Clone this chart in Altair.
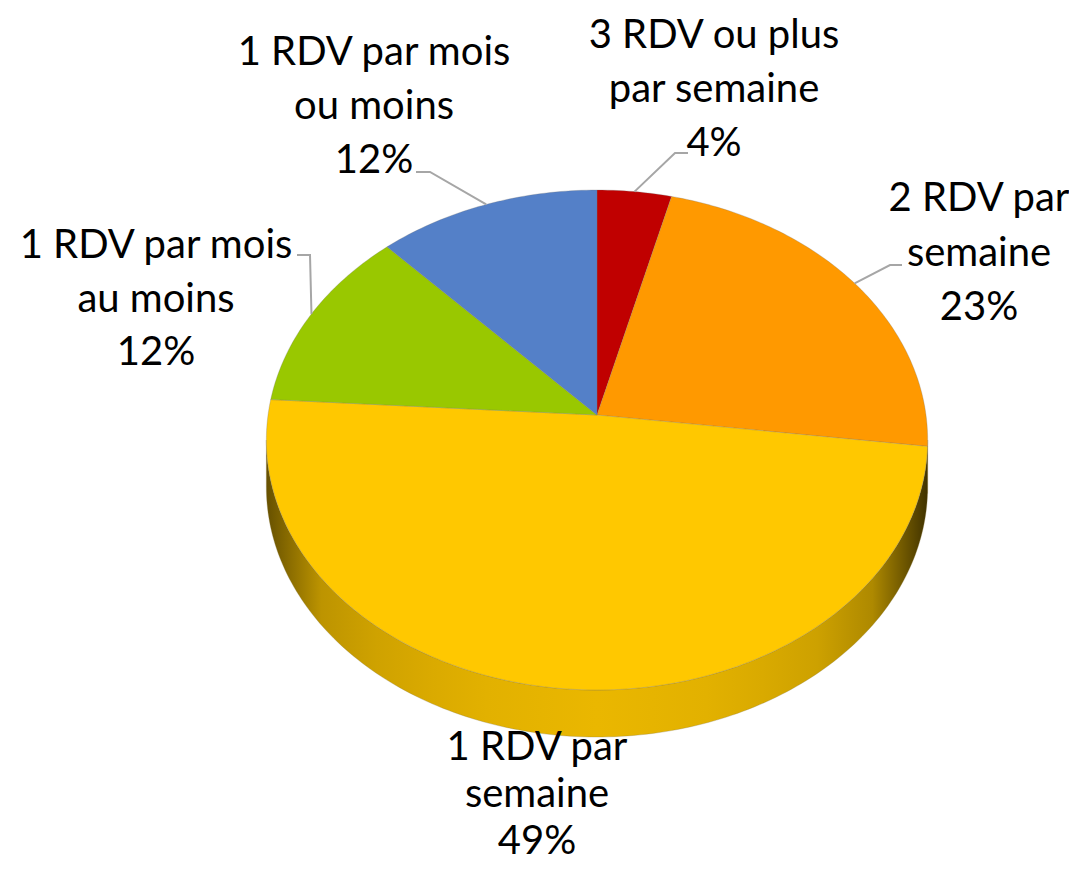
import math
import pandas as pd
import altair as alt

# ---------------- data ----------------
CATEGORIES = [
    "3 RDV ou plus par semaine",
    "2 RDV par semaine",
    "1 RDV par semaine",
    "1 RDV par mois au moins",
    "1 RDV par mois ou moins",
]
VALUES = [4, 23, 49, 12, 12]
LABEL_LINES = [
    ["3 RDV ou plus", "par semaine"],
    ["2 RDV par", "semaine"],
    ["1 RDV par", "semaine"],
    ["1 RDV par mois", "au moins"],
    ["1 RDV par mois", "ou moins"],
]
COLORS = ["#C00000", "#FF9900", "#FFC800", "#99C800", "#5480C8"]

# ---------------- layout (screen pixels) ----------------
CX, CY = 597, 415          # pie apex
A, B, K = 329, 247.5, 0.1  # semi-axes and perspective factor
DEPTH = 47                 # thickness of the pie
FONT_SIZE = 40
# label anchor (centre x, first baseline y, line spacing) per slice
LABEL_POS = [(714, 48, 54), (979, 211, 54.5), (537, 760, 47), (156, 258, 53.5), (374, 65, 54)]
# leader line: (label end, elbow) per slice, None = no leader
LEADERS = [((688, 153), (675, 153)), ((902, 265), (890, 265)), None,
           ((297, 255), (310, 255)), ((416, 172), (430, 172))]

TOTAL = sum(VALUES)


def proj(theta, drop=0.0):
    t = math.radians(theta)
    X, Z = math.sin(t), math.cos(t)
    s = 1 + K * Z
    return CX + A * X / s, CY - B * Z / s + drop


def darken(hexc, f):
    r, g, b = int(hexc[1:3], 16), int(hexc[3:5], 16), int(hexc[5:7], 16)
    return "#%02x%02x%02x" % (int(r * f), int(g * f), int(b * f))


# angle bounds of the visible side (x extremes of the projected rim)
TH_R = math.degrees(math.acos(-K))
TH_L = 360 - TH_R
XR = proj(TH_R)[0]
XL = proj(TH_L)[0]
SIDE_STOPS = [(0, 0.40), (0.03, 0.62), (0.1, 0.78), (0.3, 0.88), (0.5, 0.92),
              (0.7, 0.88), (0.88, 0.78), (0.95, 0.6), (1, 0.25)]


def side_factor(u):
    for (u0, f0), (u1, f1) in zip(SIDE_STOPS, SIDE_STOPS[1:]):
        if u <= u1:
            return f0 + (f1 - f0) * (u - u0) / (u1 - u0) if u1 > u0 else f1
    return SIDE_STOPS[-1][1]


top_rows, side_layers, leader_rows, label_rows = [], [], [], []
cum = 0
for i, (cat, v) in enumerate(zip(CATEGORIES, VALUES)):
    start = cum / TOTAL * 360
    end = (cum + v) / TOTAL * 360
    cum += v
    mid = (start + end) / 2
    # top surface polygon
    pts = [(CX, CY)]
    n = max(4, int(end - start))
    for j in range(n + 1):
        pts.append(proj(start + (end - start) * j / n))
    pts.append((CX, CY))
    for k, (x, y) in enumerate(pts):
        top_rows.append(dict(slice=cat, order=k, x=x, y=y))
    # side polygon
    lo, hi = max(start, TH_R), min(end, TH_L)
    if hi > lo:
        m = max(4, int(hi - lo))
        rim = [proj(lo + (hi - lo) * j / m) for j in range(m + 1)]
        low = [proj(lo + (hi - lo) * j / m, DEPTH) for j in range(m + 1)][::-1]
        spts = rim + low + [rim[0]]
        sdf = pd.DataFrame([dict(slice=cat, order=k, x=x, y=y) for k, (x, y) in enumerate(spts)])
        x0, x1 = sdf.x.min(), sdf.x.max()
        stops = []
        for j in range(13):
            off = j / 12
            u = ((x0 + (x1 - x0) * off) - XL) / (XR - XL)
            stops.append(alt.GradientStop(offset=off, color=darken(COLORS[i], side_factor(min(max(u, 0), 1)))))
        grad = alt.LinearGradient(gradient="linear", stops=stops, x1=0, x2=1, y1=0, y2=0)
        side_layers.append((sdf, grad))
    # leaders
    if LEADERS[i] is not None:
        (ex, ey), (bx, by) = LEADERS[i]
        ax, ay = proj(mid)
        for k, (x, y) in enumerate([(ex, ey), (bx, by), (ax, ay)]):
            leader_rows.append(dict(slice=cat, order=k, x=x, y=y))
    lx, ly, lh = LABEL_POS[i]
    for k, line in enumerate(LABEL_LINES[i] + [f"{v}%"]):
        label_rows.append(dict(slice=cat, text=line, x=lx, y=ly + k * lh))

XS = alt.Scale(domain=[8, 1069], nice=False, zero=False)
YS = alt.Scale(domain=[8, 863], nice=False, zero=False, reverse=True)


def xy():
    return dict(x=alt.X("x:Q", scale=XS, axis=None), y=alt.Y("y:Q", scale=YS, axis=None))


layers = []
for sdf, grad in side_layers:
    layers.append(
        alt.Chart(sdf).mark_line(fill=grad, stroke="#8a7a40", strokeWidth=0.5, strokeOpacity=0.6)
        .encode(order="order:Q", **xy())
    )

top = alt.Chart(pd.DataFrame(top_rows)).mark_line(
    filled=True, stroke="#6f6f6f", strokeWidth=0.6, strokeOpacity=0.45, strokeJoin="round"
).encode(
    color=alt.Color("slice:N", scale=alt.Scale(domain=CATEGORIES, range=COLORS), legend=None),
    order="order:Q",
    **xy(),
)
layers.append(top)

leaders = alt.Chart(pd.DataFrame(leader_rows)).mark_line(color="#A6A6A6", strokeWidth=2).encode(
    detail="slice:N", order="order:Q", **xy()
)
layers.append(leaders)

labels = alt.Chart(pd.DataFrame(label_rows)).mark_text(
    font="Lato", fontSize=FONT_SIZE, align="center", baseline="alphabetic", color="#000000"
).encode(text="text:N", **xy())
layers.append(labels)

chart = alt.layer(*layers).properties(
    width=1061, height=855, padding=0, autosize="none", background="#FFFFFF"
).configure_view(strokeWidth=0)

chart.save("out.html", embed_options={"renderer": "svg", "actions": False})
